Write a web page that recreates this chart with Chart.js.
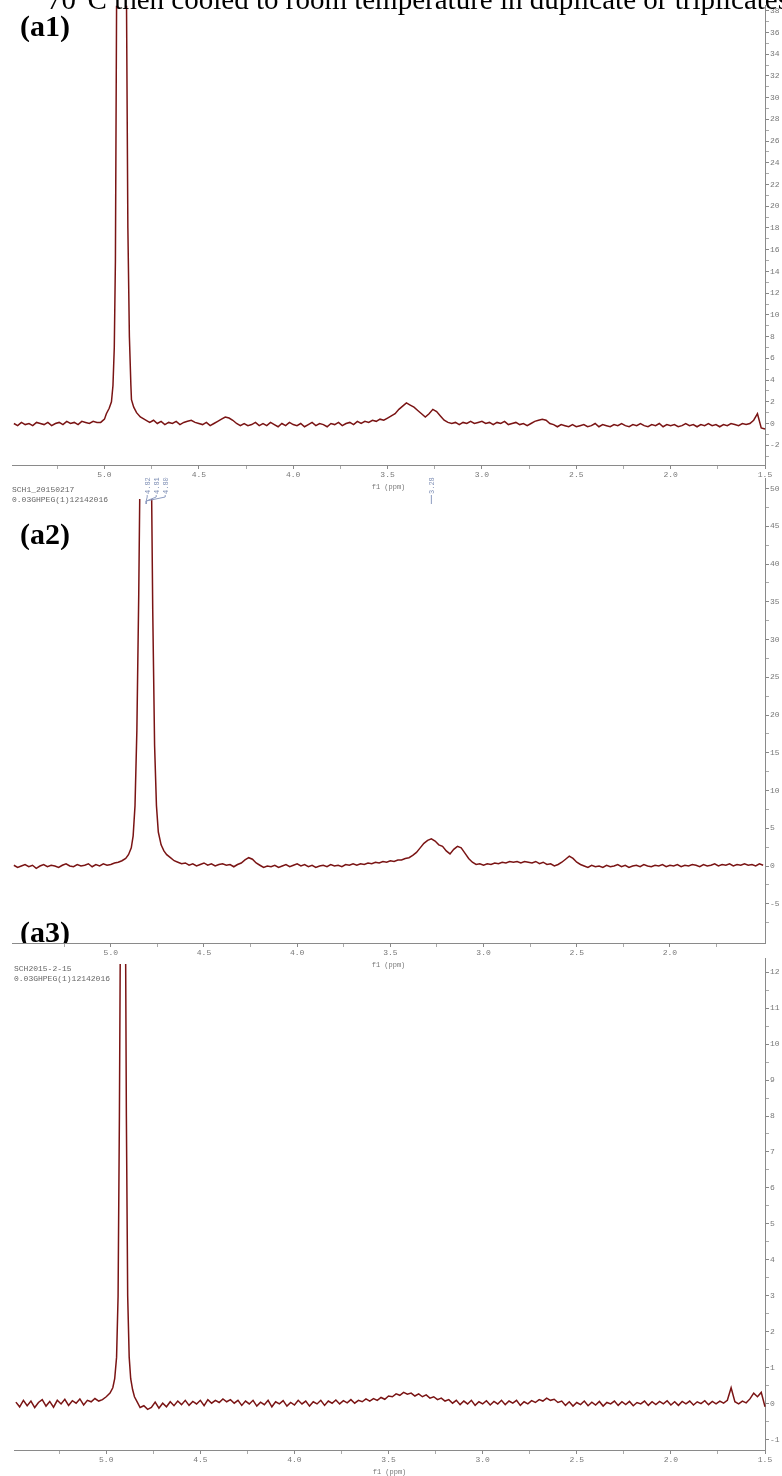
<!DOCTYPE html>
<html>
<head>
<meta charset="utf-8">
<script src="https://cdn.jsdelivr.net/npm/chart.js@4.4.1/dist/chart.umd.min.js"></script>
<style>
  html, body { margin: 0; padding: 0; background: #fff; }
  body { width: 782px; height: 1476px; position: relative; overflow: hidden; }
  canvas { position: absolute; left: 0; }
  .caption { position: absolute; left: 47px; top: -14px; font: 29px 'Liberation Serif', serif; line-height: 26px; white-space: nowrap; color: #000; z-index: 2; }
  .tag { position: absolute; left: 20px; height: 32px; font: bold 30px 'Liberation Serif', serif; line-height: 32px; color: #000; overflow: hidden; z-index: 2; }
  .meta { position: absolute; font: 8px 'Liberation Mono', monospace; line-height: 10px; color: #666; white-space: nowrap; z-index: 2; }
</style>
</head>
<body>
<div class="caption">70°C then cooled to room temperature in duplicate or triplicates</div>

<canvas id="a1" width="782" height="491" style="top:0px"></canvas>
<canvas id="a2" width="782" height="499" style="top:470px"></canvas>
<canvas id="a3" width="782" height="526" style="top:950px"></canvas>

<div class="tag" style="top:10px">(a1)</div>
<div class="tag" style="top:518px">(a2)</div>
<div class="tag" style="top:916px; height:27px">(a3)</div>

<div class="meta" style="left:12px; top:485px">SCH1_20150217<br>0.03GHPEG(1)12142016</div>
<div class="meta" style="left:14px; top:964px">SCH2015-2-15<br>0.03GHPEG(1)12142016</div>

<script>
// 1H spectra, intensity vs chemical shift (ppm). Baselines are sampled every 0.02 ppm,
// the water peaks are listed as [ppm, intensity] pairs.
const STEP = 0.02;

// ---- (a1) ----
const a1Left = [0.0, -0.2, 0.1, -0.1, 0.0, -0.2, 0.1, 0.0, -0.1, 0.1,
  -0.2, 0.0, 0.1, -0.1, 0.2, 0.0, 0.1, -0.1, 0.2, 0.1, 0.0, 0.2, 0.1];          // 5.48 -> 5.04
const a1Peak = [[5.02, 0.1], [5.00, 0.4], [4.99, 0.9], [4.975, 1.4], [4.963, 2.0], [4.955, 3.5],
  [4.948, 7], [4.942, 15], [4.936, 38], [4.93, 70], [4.92, 110], [4.91, 120], [4.90, 105],
  [4.893, 70], [4.883, 38], [4.876, 18], [4.868, 8], [4.86, 3.5], [4.857, 2.2], [4.845, 1.5],
  [4.83, 1.0], [4.81, 0.6], [4.79, 0.4], [4.77, 0.2]];
const a1Right = [
  0.1, 0.3, 0.0, 0.2, -0.1, 0.1, 0.0, 0.2, -0.1, 0.1,        // 4.76
  0.2, 0.3, 0.1, 0.0, -0.1, 0.1, -0.2, 0.0, 0.2, 0.4,        // 4.56
  0.6, 0.5, 0.3, 0.0, -0.2, 0.0, -0.2, -0.1, 0.1, -0.2,      // 4.36
  0.0, -0.2, 0.1, -0.1, -0.3, 0.0, -0.2, 0.1, -0.1, -0.2,    // 4.16
  0.0, -0.3, -0.1, 0.1, -0.2, 0.0, -0.1, -0.3, 0.0, -0.1,    // 3.96
  0.1, -0.2, 0.0, 0.1, -0.1, 0.2, 0.0, 0.2, 0.1, 0.3,        // 3.76
  0.2, 0.4, 0.3, 0.5, 0.7, 0.9, 1.3, 1.6, 1.9, 1.7,          // 3.56
  1.5, 1.2, 0.9, 0.6, 0.9, 1.3, 1.1, 0.7, 0.3, 0.1,          // 3.36
  0.0, 0.1, -0.1, 0.1, 0.0, 0.2, 0.0, 0.1, 0.2, 0.0,         // 3.16
  0.1, -0.1, 0.1, 0.0, 0.2, -0.1, 0.0, 0.1, -0.1, 0.0,       // 2.96
  -0.2, 0.0, 0.2, 0.3, 0.4, 0.3, 0.0, -0.1, -0.3, -0.1,      // 2.76
  -0.2, -0.3, -0.1, -0.3, -0.2, -0.1, -0.3, -0.2, 0.0, -0.3, // 2.56
  -0.1, -0.2, -0.3, -0.1, -0.2, 0.0, -0.2, -0.3, -0.1, -0.2, // 2.36
  0.0, -0.2, -0.3, -0.1, -0.2, 0.0, -0.3, -0.1, -0.2, -0.1,  // 2.16
  -0.3, -0.2, 0.0, -0.2, -0.1, -0.3, -0.1, -0.2, 0.0, -0.2,  // 1.96
  -0.1, -0.3, -0.1, -0.2, 0.0, -0.1, -0.2, 0.0, -0.1, 0.0,   // 1.76
  0.3, 0.9, -0.4, -0.5];                                      // 1.56 -> 1.50

// ---- (a2) ----
const a2Left = [0.1, -0.2, 0.0, 0.2, -0.1, 0.1, -0.3, 0.0, 0.2, -0.1,
  0.1, 0.0, -0.2, 0.1, 0.3, 0.0, -0.1, 0.2, 0.0, 0.1,
  0.3, -0.1, 0.2, 0.0, 0.3, 0.1, 0.2, 0.4];                                      // 5.52 -> 4.98
const a2Peak = [[4.96, 0.5], [4.94, 0.7], [4.92, 1.0], [4.905, 1.5], [4.89, 2.4], [4.88, 4],
  [4.87, 8], [4.86, 18], [4.85, 36], [4.84, 60], [4.825, 95], [4.81, 110], [4.795, 95],
  [4.785, 60], [4.775, 34], [4.765, 16], [4.755, 8], [4.745, 4.5], [4.73, 2.8], [4.715, 2.0],
  [4.70, 1.5], [4.68, 1.1], [4.66, 0.7], [4.64, 0.5], [4.62, 0.3]];
const a2Right = [
  0.4, 0.1, 0.3, 0.0, 0.2, 0.4, 0.1, 0.3, 0.0, 0.2,          // 4.60
  0.3, 0.1, 0.2, -0.1, 0.2, 0.4, 0.8, 1.1, 0.9, 0.4,         // 4.40
  0.1, -0.2, 0.0, -0.1, 0.1, -0.2, 0.0, 0.2, -0.1, 0.1,      // 4.20
  0.3, 0.0, 0.2, -0.1, 0.1, -0.2, 0.0, 0.1, -0.1, 0.2,       // 4.00
  0.0, 0.1, -0.1, 0.2, 0.1, 0.3, 0.1, 0.3, 0.2, 0.4,         // 3.80
  0.3, 0.5, 0.4, 0.6, 0.5, 0.7, 0.6, 0.8, 0.8, 1.0,          // 3.60
  1.1, 1.4, 1.8, 2.4, 3.0, 3.4, 3.6, 3.3, 2.8, 2.6,          // 3.40
  2.0, 1.6, 2.2, 2.6, 2.4, 1.7, 1.0, 0.5, 0.2, 0.3,          // 3.20
  0.1, 0.3, 0.2, 0.4, 0.3, 0.5, 0.4, 0.6, 0.5, 0.6,          // 3.00
  0.4, 0.6, 0.5, 0.4, 0.6, 0.3, 0.5, 0.2, 0.3, 0.0,          // 2.80
  0.2, 0.5, 0.9, 1.3, 1.0, 0.5, 0.2, 0.0, -0.2, 0.1,         // 2.60
  -0.1, 0.0, -0.2, 0.1, -0.1, 0.0, 0.2, -0.1, 0.1, -0.2,     // 2.40
  0.0, 0.1, -0.1, 0.2, 0.0, -0.1, 0.1, 0.0, 0.2, -0.1,       // 2.20
  0.1, 0.0, 0.2, -0.1, 0.1, 0.0, 0.2, 0.1, -0.1, 0.2,        // 2.00
  0.0, 0.1, 0.3, 0.0, 0.2, 0.1, 0.3, 0.0, 0.2, 0.1,          // 1.80
  0.3, 0.1, 0.2, 0.0, 0.3, 0.1];                              // 1.60 -> 1.50
const a2PeakMarks = [['4.82', '4.81', '4.80'], ['3.28']];
const a2MarkShifts = [4.81, 3.28];

// ---- (a3) ----
const a3Left = [0.05, -0.08, 0.10, -0.05, 0.08, -0.10, 0.04, 0.12, -0.06, 0.07,
  -0.09, 0.10, 0.00, 0.13, -0.04, 0.09, 0.02, 0.14, -0.03, 0.10,
  0.06, 0.15, 0.08];                                                            // 5.48 -> 5.04
const a3Peak = [[5.02, 0.12], [5.00, 0.2], [4.98, 0.3], [4.965, 0.45], [4.955, 0.7], [4.945, 1.3],
  [4.937, 3], [4.93, 8], [4.922, 16], [4.91, 24], [4.90, 16], [4.893, 8], [4.886, 3],
  [4.878, 1.3], [4.87, 0.7], [4.86, 0.4], [4.85, 0.2], [4.835, 0.05], [4.82, -0.1],
  [4.80, -0.05], [4.78, -0.15]];
const a3Right = [
  -0.1, 0.05, -0.12, 0.02, -0.08, 0.06, -0.05, 0.08, -0.02, 0.1,   // 4.76
  -0.04, 0.07, 0.0, 0.1, -0.05, 0.12, 0.02, 0.1, 0.04, 0.14,       // 4.56
  0.06, 0.12, 0.02, 0.1, -0.04, 0.08, 0.0, 0.1, -0.06, 0.05,       // 4.36
  -0.02, 0.1, -0.08, 0.06, 0.0, 0.09, -0.06, 0.04, -0.03, 0.1,     // 4.16
  0.0, 0.08, -0.06, 0.06, 0.0, 0.1, -0.04, 0.08, 0.02, 0.11,       // 3.96
  0.0, 0.09, 0.03, 0.12, 0.02, 0.1, 0.06, 0.14, 0.08, 0.15,        // 3.76
  0.1, 0.18, 0.13, 0.22, 0.2, 0.28, 0.24, 0.32, 0.27, 0.3,         // 3.56
  0.22, 0.28, 0.2, 0.25, 0.16, 0.2, 0.12, 0.16, 0.08, 0.12,        // 3.36
  0.02, 0.1, -0.02, 0.08, 0.0, 0.1, -0.04, 0.06, 0.0, 0.09,        // 3.16
  -0.03, 0.07, 0.0, 0.1, -0.02, 0.08, 0.02, 0.1, -0.04, 0.06,      // 2.96
  0.0, 0.09, 0.04, 0.12, 0.08, 0.16, 0.1, 0.13, 0.04, 0.08,        // 2.76
  -0.04, 0.06, -0.06, 0.04, -0.02, 0.08, -0.05, 0.05, -0.03, 0.07, // 2.56
  -0.06, 0.04, 0.0, 0.08, -0.04, 0.06, -0.02, 0.07, -0.05, 0.04,   // 2.36
  0.0, 0.08, -0.04, 0.06, -0.02, 0.07, 0.0, 0.09, -0.03, 0.06,     // 2.16
  -0.04, 0.07, 0.0, 0.08, -0.03, 0.06, 0.01, 0.09, -0.02, 0.07,    // 1.96
  0.0, 0.08, 0.02, 0.1, 0.45, 0.06, 0.0, 0.08, 0.03, 0.14,         // 1.76
  0.3, 0.2, 0.32, -0.08];                                           // 1.56 -> 1.50

// axis labels
const xLabelsFull = [5.0, 4.5, 4.0, 3.5, 3.0, 2.5, 2.0, 1.5];
const xLabelsShort = [5.0, 4.5, 4.0, 3.5, 3.0, 2.5, 2.0];
const a1YLabels = [-2, 0, 2, 4, 6, 8, 10, 12, 14, 16, 18, 20, 22, 24, 26, 28, 30, 32, 34, 36, 38];
const a2YLabels = [-5, 0, 5, 10, 15, 20, 25, 30, 35, 40, 45, 50];
const a3YLabels = [-1, 0, 1, 2, 3, 4, 5, 6, 7, 8, 9, 10, 11, 12];

function gridPoints(fromPpm, values) {
  return values.map((v, i) => ({ x: +(fromPpm - i * STEP).toFixed(3), y: v }));
}
function pairPoints(pairs) {
  return pairs.map(p => ({ x: p[0], y: p[1] }));
}
// label ticks plus the half-way minor ticks inside [min, max]
function withMinors(labels, min, max) {
  const half = (labels[1] - labels[0]) / 2;
  const out = [];
  labels.forEach(v => out.push(v - half, v));
  out.push(labels[labels.length - 1] + half);
  return out.map(v => +v.toFixed(3)).filter(v => v >= min - 1e-9 && v <= max + 1e-9);
}
const isLabel = (labels, v) => labels.some(l => Math.abs(l - v) < 1e-6);

// rotated peak-pick labels with their brackets
const peakMarks = {
  id: 'peakMarks',
  afterDatasetsDraw(chart, args, opts) {
    if (!opts.groups) return;
    const ctx = chart.ctx, x = chart.scales.x, top = chart.chartArea.top;
    ctx.save();
    ctx.strokeStyle = '#8d9cc0';
    ctx.fillStyle = '#7f8fb5';
    ctx.lineWidth = 1;
    ctx.font = '7px "Liberation Mono", monospace';
    opts.groups.forEach((names, g) => {
      const ax = x.getPixelForValue(opts.shifts[g]);
      const n = names.length;
      names.forEach((t, i) => {
        const lx = ax + (n > 1 ? 10 + (i - (n - 1) / 2) * 9 : 0);
        ctx.save();
        ctx.translate(lx + 3, top + 16);
        ctx.rotate(-Math.PI / 2);
        ctx.textAlign = 'left';
        ctx.fillText(t, 0, 0);
        ctx.restore();
        ctx.beginPath();
        ctx.moveTo(lx, top + 17);
        ctx.lineTo(lx, top + 19);
        ctx.lineTo(ax, top + 23);
        ctx.lineTo(ax, top + 26);
        ctx.stroke();
      });
    });
    ctx.restore();
  }
};

function spectrum(id, o) {
  const tickFont = { family: 'Liberation Mono', size: 8 };
  const xTicks = withMinors(o.xLabels, o.xMin, o.xMax);
  const yTicks = withMinors(o.yLabels, o.yMin, o.yMax);
  return new Chart(document.getElementById(id), {
    type: 'line',
    data: {
      datasets: [{
        data: o.points,
        borderColor: '#7a1414',
        borderWidth: 1.5,
        pointRadius: 0,
        tension: 0,
        clip: o.clip
      }]
    },
    options: {
      responsive: false,
      animation: false,
      devicePixelRatio: 1,
      layout: { padding: o.padding },
      plugins: {
        legend: { display: false },
        tooltip: { enabled: false },
        peakMarks: o.marks || {}
      },
      scales: {
        x: {
          type: 'linear',
          reverse: true,
          min: o.xMin,
          max: o.xMax,
          border: { color: '#8a8a8a' },
          grid: {
            drawOnChartArea: false, tickLength: 4,
            tickColor: c => isLabel(o.xLabels, c.tick.value) ? '#888' : '#aaa'
          },
          afterBuildTicks: s => { s.ticks = xTicks.map(v => ({ value: v })); },
          afterFit: s => { s.height = 26; },
          ticks: {
            autoSkip: false, maxRotation: 0, padding: 1, color: '#777', font: tickFont,
            callback: v => isLabel(o.xLabels, v) ? v.toFixed(1) : ''
          },
          title: {
            display: true, text: 'f1 (ppm)', color: '#777',
            font: { family: 'Liberation Mono', size: 7 }, padding: 0
          }
        },
        y: {
          type: 'linear',
          position: 'right',
          min: o.yMin,
          max: o.yMax,
          border: { color: '#8a8a8a' },
          grid: {
            drawOnChartArea: false, tickLength: 4,
            tickColor: c => isLabel(o.yLabels, c.tick.value) ? '#888' : '#aaa'
          },
          afterBuildTicks: s => { s.ticks = yTicks.map(v => ({ value: v })); },
          afterFit: s => { s.width = 17; },
          ticks: {
            autoSkip: false, padding: 1, color: '#777', font: tickFont,
            callback: v => isLabel(o.yLabels, v) ? String(v) : ''
          }
        }
      }
    },
    plugins: [peakMarks]
  });
}

spectrum('a1', {
  points: [...gridPoints(5.48, a1Left), ...pairPoints(a1Peak), ...gridPoints(4.76, a1Right)],
  xMin: 1.5, xMax: 5.49, xLabels: xLabelsFull,
  yMin: -3.82, yMax: 38.45, yLabels: a1YLabels,
  padding: { left: 12, right: 0, top: 0, bottom: 0 },
  clip: { left: 2, right: 2, top: 0, bottom: 2 }
});

spectrum('a2', {
  points: [...gridPoints(5.52, a2Left), ...pairPoints(a2Peak), ...gridPoints(4.60, a2Right)],
  xMin: 1.49, xMax: 5.53, xLabels: xLabelsShort,
  yMin: -10.2, yMax: 51.4, yLabels: a2YLabels,
  padding: { left: 12, right: 0, top: 8, bottom: 0 },
  clip: { left: 2, right: 2, top: -21, bottom: 2 },
  marks: { groups: a2PeakMarks, shifts: a2MarkShifts }
});

spectrum('a3', {
  points: [...gridPoints(5.48, a3Left), ...pairPoints(a3Peak), ...gridPoints(4.76, a3Right)],
  xMin: 1.5, xMax: 5.49, xLabels: xLabelsFull,
  yMin: -1.28, yMax: 12.39, yLabels: a3YLabels,
  padding: { left: 14, right: 0, top: 8, bottom: 0 },
  clip: { left: 2, right: 2, top: -6, bottom: 2 }
});
</script>
</body>
</html>
